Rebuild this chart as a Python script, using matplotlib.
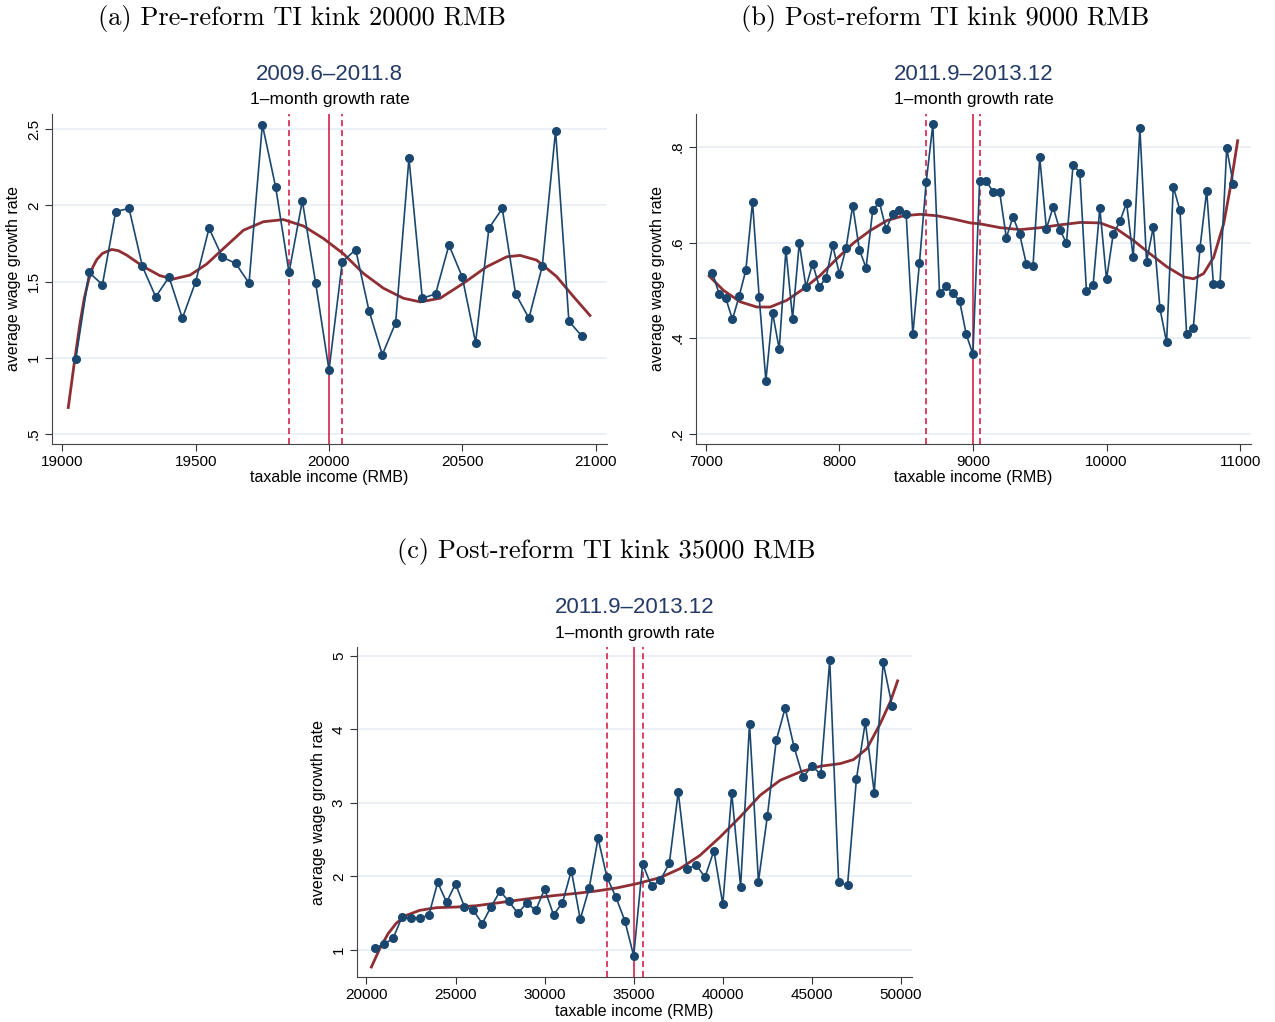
import numpy as np
import matplotlib.pyplot as plt

# panel (a): pre-reform, kink 20000
x_a = list(range(19050, 21000, 50))
y_a = [0.99, 1.56, 1.48, 1.96, 1.98, 1.60, 1.40, 1.53, 1.26, 1.50,
       1.85, 1.66, 1.62, 1.49, 2.53, 2.12, 1.56, 2.03, 1.49, 0.92,
       1.63, 1.71, 1.31, 1.02, 1.23, 2.31, 1.39, 1.42, 1.74, 1.53,
       1.10, 1.85, 1.98, 1.42, 1.26, 1.60, 2.49, 1.24, 1.14]
# fitted curve
fx_a = [19022, 19044, 19066, 19082, 19098, 19114, 19129, 19150, 19185, 19210, 19241,
        19304, 19366, 19416, 19479, 19541, 19604, 19679, 19754, 19829, 19904,
        19979, 20054, 20129, 20204, 20279, 20342, 20417, 20504, 20592, 20667,
        20717, 20779, 20854, 20917, 20979]
fy_a = [0.674, 0.96, 1.228, 1.39, 1.51, 1.595, 1.645, 1.685, 1.711, 1.703, 1.674,
        1.598, 1.539, 1.517, 1.543, 1.615, 1.717, 1.837, 1.893, 1.907, 1.865,
        1.783, 1.683, 1.554, 1.457, 1.391, 1.367, 1.391, 1.489, 1.598, 1.663,
        1.672, 1.641, 1.533, 1.402, 1.278]

# panel (b): post-reform, kink 9000
x_b = list(range(7050, 11000, 50))
y_b = [0.537, 0.492, 0.483, 0.439, 0.488, 0.542, 0.685, 0.485, 0.311, 0.453,
       0.377, 0.585, 0.441, 0.599, 0.507, 0.556, 0.507, 0.526, 0.594, 0.535,
       0.588, 0.677, 0.585, 0.547, 0.668, 0.684, 0.628, 0.660, 0.667, 0.660,
       0.408, 0.558, 0.726, 0.847, 0.494, 0.508, 0.494, 0.478, 0.408, 0.366,
       0.728, 0.729, 0.706, 0.706, 0.610, 0.654, 0.617, 0.555, 0.551, 0.778,
       0.629, 0.674, 0.627, 0.599, 0.763, 0.746, 0.498, 0.512, 0.672, 0.523,
       0.617, 0.644, 0.683, 0.569, 0.839, 0.560, 0.632, 0.462, 0.391, 0.717,
       0.667, 0.408, 0.422, 0.589, 0.708, 0.514, 0.514, 0.797, 0.722]
fx_b = [7025, 7132, 7257, 7382, 7482, 7606, 7731, 7856, 7981, 8106,
        8231, 8356, 8480, 8605, 8730, 8855, 8980, 9055, 9205, 9354,
        9504, 9654, 9804, 9953, 10078, 10203, 10328, 10453, 10578, 10652,
        10727, 10802, 10877, 10927, 10982]
fy_b = [0.530, 0.500, 0.476, 0.465, 0.465, 0.479, 0.503, 0.531, 0.566, 0.599,
        0.625, 0.646, 0.656, 0.659, 0.656, 0.649, 0.641, 0.639, 0.631, 0.627,
        0.631, 0.637, 0.642, 0.641, 0.628, 0.604, 0.576, 0.549, 0.528, 0.524,
        0.535, 0.569, 0.639, 0.715, 0.813]

# panel (c): post-reform, kink 35000
x_c = list(range(20500, 50000, 500))
y_c = [1.03, 1.08, 1.16, 1.45, 1.43, 1.44, 1.47, 1.92, 1.65, 1.90,
       1.59, 1.54, 1.36, 1.59, 1.80, 1.66, 1.50, 1.64, 1.54, 1.83,
       1.48, 1.64, 2.08, 1.42, 1.84, 2.52, 1.99, 1.72, 1.40, 0.92,
       2.17, 1.87, 1.95, 2.18, 3.15, 2.10, 2.16, 1.99, 2.35, 1.62,
       3.14, 1.86, 4.08, 1.93, 2.82, 3.85, 4.29, 3.76, 3.35, 3.50,
       3.39, 4.94, 1.92, 1.88, 3.33, 4.10, 3.14, 4.91, 4.32]
fx_c = [20279, 20747, 21215, 21683, 22245, 22994, 23930, 25054, 26177, 27301,
        28424, 29548, 30672, 31795, 32919, 34042, 35166, 36477, 37601, 38724,
        39848, 40972, 42095, 43219, 44342, 45466, 46590, 47339, 48088, 48837,
        49399, 49811]
fy_c = [0.769, 1.018, 1.222, 1.367, 1.472, 1.540, 1.576, 1.585, 1.603, 1.639,
        1.676, 1.712, 1.744, 1.771, 1.803, 1.844, 1.902, 1.984, 2.107, 2.288,
        2.537, 2.810, 3.104, 3.308, 3.422, 3.499, 3.535, 3.590, 3.739, 4.079,
        4.374, 4.66]

panels = [
    dict(x=x_a, y=y_a, fx=fx_a, fy=fy_a, kink=20000, win=(19850, 20050),
         xlim=(18961, 21043), ylim=(0.435, 2.6),
         xticks=[19000, 19500, 20000, 20500, 21000],
         yticks=[0.5, 1, 1.5, 2, 2.5], ylabels=[".5", "1", "1.5", "2", "2.5"],
         pos=[0.0408, 0.5656, 0.4353, 0.3229],
         title="(a) Pre-reform TI kink 20000 RMB", period="2009.6\u20132011.8"),
    dict(x=x_b, y=y_b, fx=fx_b, fy=fy_b, kink=9000, win=(8650, 9050),
         xlim=(6927, 11082), ylim=(0.1785, 0.869),
         xticks=[7000, 8000, 9000, 10000, 11000],
         yticks=[0.2, 0.4, 0.6, 0.8], ylabels=[".2", ".4", ".6", ".8"],
         pos=[0.5459, 0.5656, 0.4353, 0.3229],
         title="(b) Post-reform TI kink 9000 RMB", period="2011.9\u20132013.12"),
    dict(x=x_c, y=y_c, fx=fx_c, fy=fy_c, kink=35000, win=(33500, 35500),
         xlim=(19472, 50618), ylim=(0.633, 5.12),
         xticks=[20000, 25000, 30000, 35000, 40000, 45000, 50000],
         yticks=[1, 2, 3, 4, 5], ylabels=["1", "2", "3", "4", "5"],
         pos=[0.28, 0.044, 0.4353, 0.3229],
         title="(c) Post-reform TI kink 35000 RMB", period="2011.9\u20132013.12"),
]

navy = "#1a476f"
fitc = "#8f2f33"
red = "#d0103a"
grid = "#e6eef3"

fig = plt.figure(figsize=(12.75, 10.22), dpi=100)
plt.rcParams["font.family"] = ["Liberation Sans", "DejaVu Sans"]

for p in panels:
    ax = fig.add_axes(p["pos"])

    ax.plot(p["fx"], p["fy"], color=fitc, lw=2.0, zorder=3)
    ax.plot(p["x"], p["y"], color=navy, lw=1.2, marker="o", ms=5.5, zorder=4)

    ax.axvline(p["kink"], color=red, lw=1.1, zorder=2)
    for w in p["win"]:
        ax.axvline(w, color=red, lw=1.1, ls=(0, (4, 2.5)), zorder=2)

    ax.set_xlim(*p["xlim"])
    ax.set_ylim(*p["ylim"])
    ax.set_xticks(p["xticks"])
    ax.set_yticks(p["yticks"])
    ax.set_yticklabels(p["ylabels"], rotation=90, va="center")
    ax.grid(axis="y", color=grid, lw=1.2)
    ax.set_axisbelow(True)
    ax.tick_params(labelsize=11, length=5, color="#333333", pad=3)
    for s in ["top", "right"]:
        ax.spines[s].set_visible(False)
    for s in ["left", "bottom"]:
        ax.spines[s].set_color("#444444")
    ax.set_xlabel("taxable income (RMB)", fontsize=11.5, labelpad=1)
    ax.set_ylabel("average wage growth rate", fontsize=11.5, labelpad=4)

    x0, y0, w, h = p["pos"]
    cx = x0 + w / 2
    top = y0 + h
    fig.text(cx, top + 0.0137, "1\u2013month growth rate", ha="center", va="center", fontsize=12.5)
    fig.text(cx, top + 0.039, p["period"], ha="center", va="center", fontsize=16, color="#243a66")
    fig.text(cx - 0.022, top + 0.093, p["title"], ha="center", va="center",
             fontsize=19, family="cmr10")

fig.savefig("out.png", dpi=100)
